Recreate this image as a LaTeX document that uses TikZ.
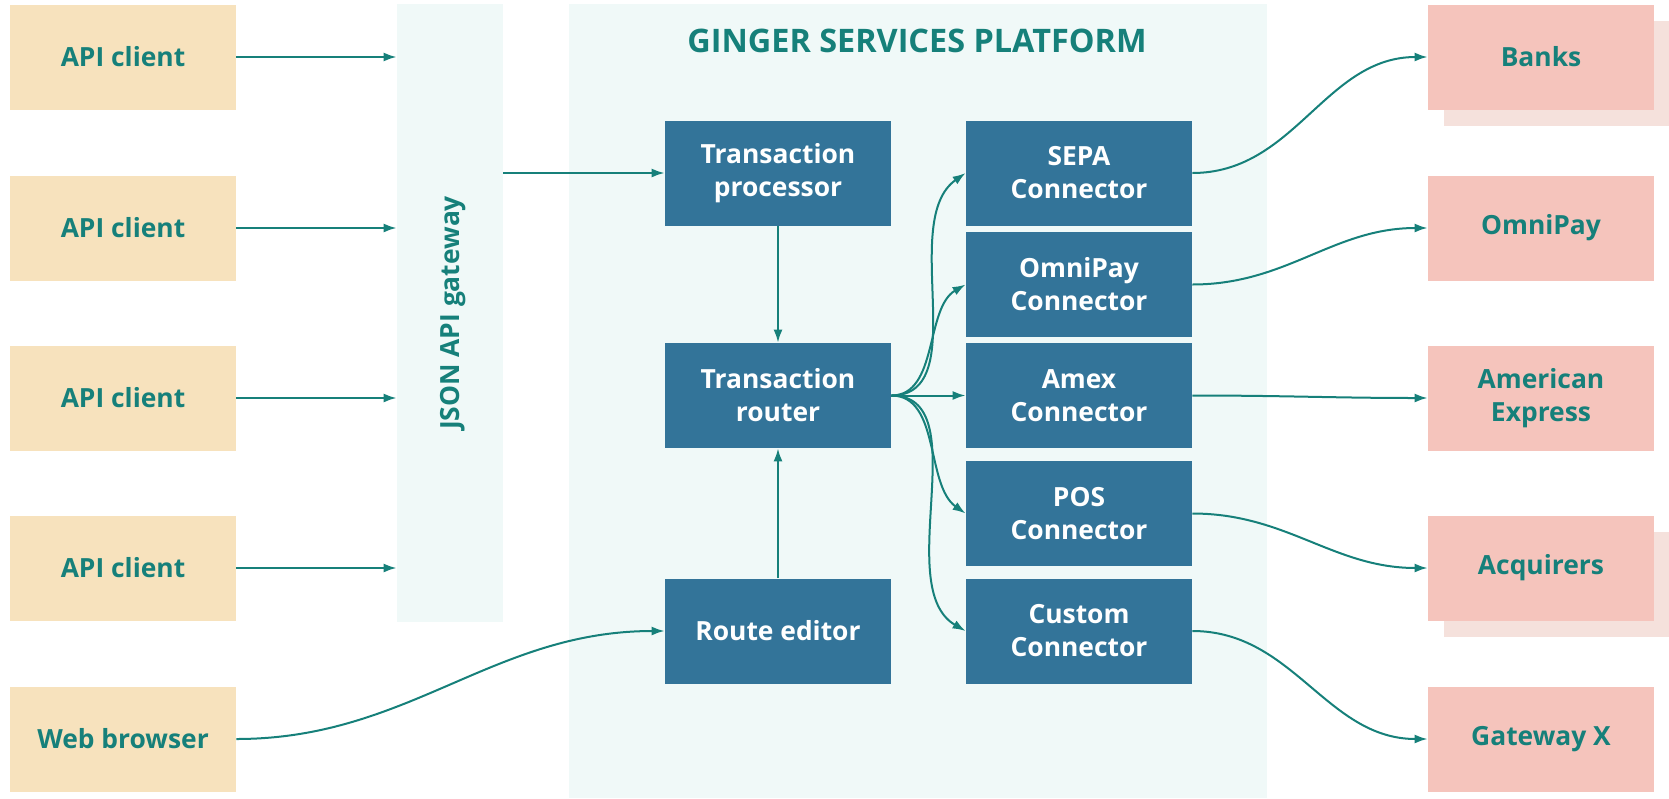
\documentclass[tikz,border=0pt]{standalone}
\usepackage{fontspec}
\setmainfont{Open Sans}
\usetikzlibrary{arrows.meta}
\definecolor{teal}{HTML}{16807A}
\definecolor{beige}{HTML}{F7E2BD}
\definecolor{salmon}{HTML}{F5C4BC}
\definecolor{salmonlight}{HTML}{F5E1DC}
\definecolor{mint}{HTML}{F0F9F8}
\definecolor{steel}{HTML}{337499}
\begin{document}
\begin{tikzpicture}[x=0.5pt,y=-0.5pt,line join=round,
  box/.style={minimum width=113pt,minimum height=52.5pt,inner sep=0pt,align=center,
    font=\fontsize{13.2}{16.5}\selectfont\bfseries},
  client/.style={box,fill=beige,text=teal},
  core/.style={box,fill=steel,text=white},
  bank/.style={box,fill=salmon,text=teal},
  ghost/.style={minimum width=113pt,minimum height=52.5pt,inner sep=0pt,fill=salmonlight},
  flow/.style={line width=1pt,draw=teal,-{Latex[length=6.5pt,width=4.5pt]}}]
\useasboundingbox (0,0) rectangle (1669,798);
% backgrounds
\node[fill=mint,minimum width=349pt,minimum height=397pt,inner sep=0pt] (plat) at (918,401) {};
\node[fill=mint,minimum width=53pt,minimum height=309pt,inner sep=0pt] (gw) at (450,313) {};
\node[rotate=90,text=teal,font=\fontsize{13.2}{16.5}\selectfont\bfseries] (gwlabel) at (453,313) {JSON API gateway};
\node[text=teal,font=\fontsize{16.2}{20}\selectfont\bfseries] (title) at (917,41) {GINGER SERVICES PLATFORM};
% clients
\node[client] (c1) at (123,57) {API client};
\node[client] (c2) at (123,228) {API client};
\node[client] (c3) at (123,398) {API client};
\node[client] (c4) at (123,568) {API client};
\node[client] (web) at (123,739) {Web browser};
% platform
\node[core] (proc) at (778,173) {Transaction\\processor};
\node[core] (router) at (778,395.5) {Transaction\\router};
\node[core] (editor) at (778,631) {Route editor};
\node[core] (sepa) at (1079,173) {SEPA\\Connector};
\node[core] (omni) at (1079,284.5) {OmniPay\\Connector};
\node[core] (amex) at (1079,395.5) {Amex\\Connector};
\node[core] (pos) at (1079,513.5) {POS\\Connector};
\node[core] (custom) at (1079,631) {Custom\\Connector};
% providers
\node[ghost] (banksbg) at (1557,73) {};
\node[ghost] (acqbg) at (1557,584) {};
\node[bank] (banks) at (1541,57) {Banks};
\node[bank] (omnipay) at (1541,228) {OmniPay};
\node[bank] (amexp) at (1541,398) {American\\Express};
\node[bank] (acq) at (1541,568) {Acquirers};
\node[bank] (gatex) at (1541,739) {Gateway X};
% connections
\foreach \c in {c1,c2,c3,c4}
  \draw[flow] (\c.east) -- (\c.east -| gw.west);
\draw[flow] (gw.east |- proc.west) -- (proc.west);
\draw[flow] (web.east) to[out=0,in=180] (editor.west);
\draw[flow] (proc) -- (router);
\draw[flow] (editor) -- (router);
\draw[flow] (router.east) to[out=0,in=215,looseness=0.9] (sepa.west);
\draw[flow] (router.east) to[out=0,in=210,looseness=0.9] (omni.west);
\draw[flow] (router.east) -- (amex.west);
\draw[flow] (router.east) to[out=0,in=145,looseness=0.9] (pos.west);
\draw[flow] (router.east) to[out=0,in=150,looseness=0.9] (custom.west);
\draw[flow] (sepa.east) to[out=0,in=180] (banks.west);
\draw[flow] (omni.east) to[out=0,in=180] (omnipay.west);
\draw[flow] (amex.east) to[out=0,in=180] (amexp.west);
\draw[flow] (pos.east) to[out=0,in=180] (acq.west);
\draw[flow] (custom.east) to[out=0,in=180] (gatex.west);
\end{tikzpicture}
\end{document}
